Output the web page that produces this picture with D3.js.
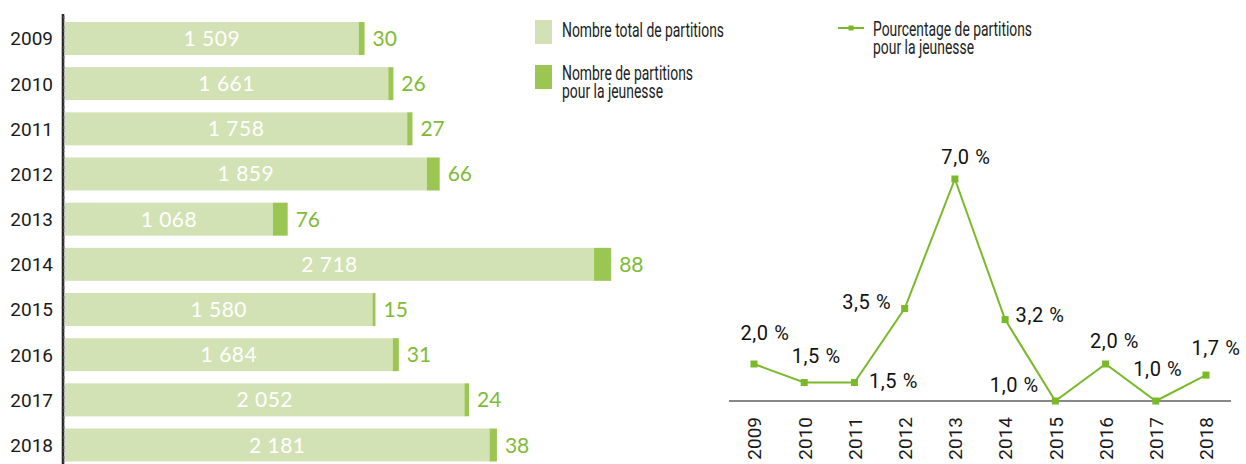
<!DOCTYPE html>
<html>
<head>
<meta charset="utf-8">
<script src="https://cdn.jsdelivr.net/npm/d3@7"></script>
<style>
  html, body { margin: 0; padding: 0; background: #fff; }
  svg text { font-family: Roboto, "Noto Sans", sans-serif; }
</style>
</head>
<body>
<script>
// data
const years = ["2009", "2010", "2011", "2012", "2013", "2014", "2015", "2016", "2017", "2018"];
const totalScores = [1509, 1661, 1758, 1859, 1068, 2718, 1580, 1684, 2052, 2181];
const youthScores = [30, 26, 27, 66, 76, 88, 15, 31, 24, 38];
const youthPercent = [2.0, 1.5, 1.5, 3.5, 7.0, 3.2, 1.0, 2.0, 1.0, 1.7];
const legendTotal = ["Nombre total de partitions"];
const legendYouth = ["Nombre de partitions", "pour la jeunesse"];
const legendPct = ["Pourcentage de partitions", "pour la jeunesse"];

const W = 1246, H = 464;
const lightGreen = "#d2e2b4", darkGreen = "#9bc653", lineGreen = "#7ab929", textGreen = "#80bb35";

const fmtInt = v => d3.format(",")(v).replace(",", " ");
const fmtPct = v => d3.format(".1f")(v).replace(".", ",") + " %";

const svg = d3.select("body").append("svg").attr("width", W).attr("height", H);

// ---- bar chart (left)
const yBand = d3.scaleBand().domain(years).range([22, 461.5]).paddingInner(0.27).paddingOuter(0);
const xBar = d3.scaleLinear().domain([0, 2800]).range([65, 610]);

const rows = years.map((y, i) => ({ year: y, total: totalScores[i], youth: youthScores[i] }));

const bars = svg.append("g");
bars.selectAll("rect.total")
  .data(rows).enter().append("rect")
  .attr("class", "total")
  .attr("x", xBar(0))
  .attr("y", d => yBand(d.year))
  .attr("width", d => xBar(d.total) - xBar(0))
  .attr("height", yBand.bandwidth())
  .attr("fill", lightGreen);

bars.selectAll("rect.youth")
  .data(rows).enter().append("rect")
  .attr("class", "youth")
  .attr("x", d => xBar(d.total))
  .attr("y", d => yBand(d.year))
  .attr("width", d => xBar(d.total + d.youth) - xBar(d.total))
  .attr("height", yBand.bandwidth())
  .attr("fill", darkGreen);

bars.selectAll("text.tot")
  .data(rows).enter().append("text")
  .attr("class", "tot")
  .attr("x", d => (xBar(0) + xBar(d.total)) / 2)
  .attr("y", d => yBand(d.year) + yBand.bandwidth() / 2 + 7.5)
  .attr("text-anchor", "middle")
  .style("font-family", "Lato, sans-serif")
  .style("font-size", "21px")
  .style("letter-spacing", "0.5px")
  .attr("fill", "#fff")
  .text(d => fmtInt(d.total));

bars.selectAll("text.yo")
  .data(rows).enter().append("text")
  .attr("class", "yo")
  .attr("x", d => xBar(d.total + d.youth) + 8)
  .attr("y", d => yBand(d.year) + yBand.bandwidth() / 2 + 7.5)
  .style("font-family", "Lato, sans-serif")
  .style("font-size", "21px")
  .attr("fill", textGreen)
  .text(d => d.youth);

// year axis
const yAxis = svg.append("g")
  .attr("transform", "translate(63,0)")
  .call(d3.axisLeft(yBand).tickSize(0).tickPadding(10));
yAxis.select(".domain").remove();
yAxis.selectAll("text").style("font-size", "19px").attr("fill", "#1a1a1a").attr("dy", "0.36em");

// sketchy axis line
svg.append("line").attr("x1", 63).attr("x2", 63).attr("y1", 14).attr("y2", H)
  .attr("stroke", "#2a2a2a").attr("stroke-width", 2.6);
svg.append("line").attr("x1", 64).attr("x2", 64).attr("y1", 16).attr("y2", H)
  .attr("stroke", "#777").attr("stroke-width", 1).attr("stroke-dasharray", "3 2 1 4");

// ---- legend
const lg = svg.append("g");
lg.append("rect").attr("x", 535).attr("y", 20).attr("width", 17).attr("height", 24).attr("fill", lightGreen);
lg.append("rect").attr("x", 535).attr("y", 65).attr("width", 17).attr("height", 24).attr("fill", darkGreen);

// multi-line legend label, each line squeezed to the condensed width of the original
function legendText(x, y, lines, widths) {
  const t = lg.append("text").attr("x", x).attr("y", y)
    .style("font-size", "21px").attr("fill", "#222");
  lines.forEach((s, i) => {
    t.append("tspan").attr("x", x).attr("dy", i ? 18 : 0)
      .attr("textLength", widths[i]).attr("lengthAdjust", "spacingAndGlyphs").text(s);
  });
}
legendText(562, 37, legendTotal, [162]);
legendText(562, 80, legendYouth, [131, 101]);

lg.append("line").attr("x1", 838).attr("x2", 864).attr("y1", 28).attr("y2", 28)
  .attr("stroke", lineGreen).attr("stroke-width", 2);
lg.append("rect").attr("x", 848.5).attr("y", 25.5).attr("width", 5).attr("height", 5).attr("fill", lineGreen);
legendText(873, 36, legendPct, [159, 101]);

// ---- line chart (right)
const xPt = d3.scalePoint().domain(years).range([754, 1206]);
const yLin = d3.scaleLinear().domain([1, 7]).range([401, 179]);

const xAxis = svg.append("g")
  .attr("transform", "translate(0,401)")
  .call(d3.axisBottom(xPt).tickSize(0).tickPadding(0));
xAxis.select(".domain").remove();
xAxis.append("line").attr("x1", 729).attr("x2", 1231).attr("stroke", "#111").attr("stroke-width", 1);
xAxis.selectAll(".tick text")
  .style("font-size", "19px").attr("fill", "#1a1a1a")
  .attr("text-anchor", "end")
  .attr("transform", "rotate(-90)")
  .attr("x", -16).attr("y", 0).attr("dy", "0.36em");

const pts = years.map((y, i) => ({ year: y, v: youthPercent[i] }));
svg.append("path").datum(pts)
  .attr("fill", "none").attr("stroke", lineGreen).attr("stroke-width", 2)
  .attr("d", d3.line().x(d => xPt(d.year)).y(d => yLin(d.v)));

svg.selectAll("rect.mk").data(pts).enter().append("rect")
  .attr("class", "mk")
  .attr("x", d => xPt(d.year) - 3.5).attr("y", d => yLin(d.v) - 3.5)
  .attr("width", 7).attr("height", 7).attr("fill", lineGreen);

// label offsets relative to each point
const labelOffsets = [[11, -24], [12, -20], [39, 5], [-38, 0], [11, -15], [35, 2], [-41, -9], [9, -16], [2, -25], [10, -20]];
svg.selectAll("text.pct").data(pts).enter().append("text")
  .attr("class", "pct")
  .attr("x", (d, i) => xPt(d.year) + labelOffsets[i][0])
  .attr("y", (d, i) => yLin(d.v) + labelOffsets[i][1])
  .attr("text-anchor", "middle")
  .style("font-size", "20px").style("letter-spacing", "0.6px").attr("fill", "#111")
  .text(d => fmtPct(d.v));
</script>
</body>
</html>
